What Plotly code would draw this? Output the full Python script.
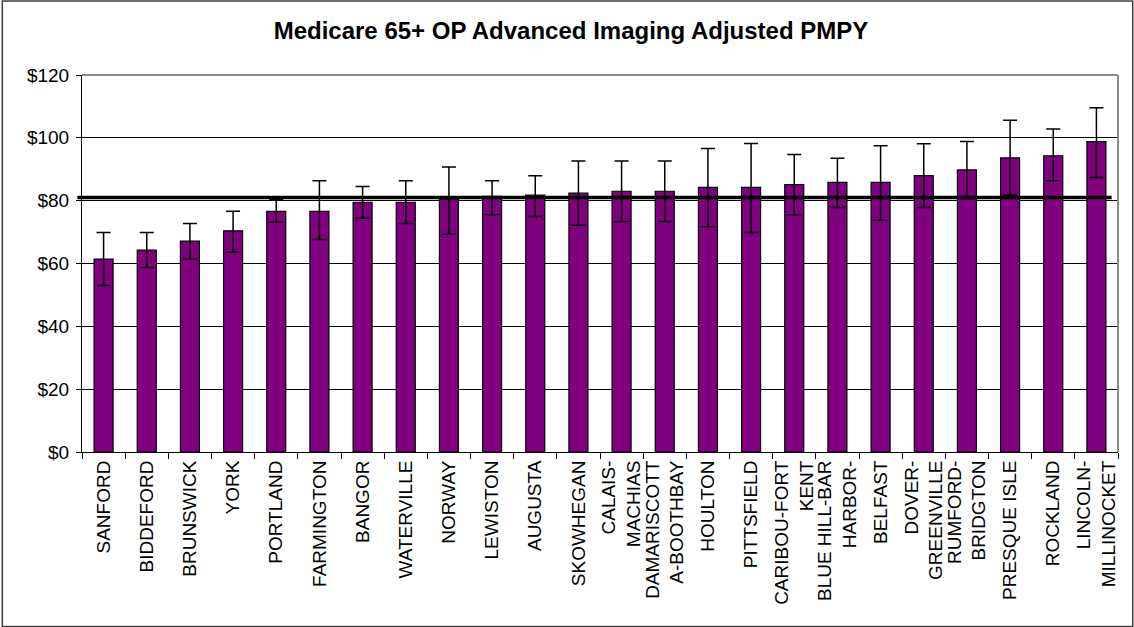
import plotly.graph_objects as go

# Hospital service areas, sorted by adjusted PMPY
areas = ["SANFORD", "BIDDEFORD", "BRUNSWICK", "YORK", "PORTLAND", "FARMINGTON",
         "BANGOR", "WATERVILLE", "NORWAY", "LEWISTON", "AUGUSTA", "SKOWHEGAN",
         "CALAIS-<br>MACHIAS", "DAMARISCOTT<br>A-BOOTHBAY", "HOULTON", "PITTSFIELD",
         "CARIBOU-FORT<br>KENT", "BLUE HILL-BAR<br>HARBOR-", "BELFAST",
         "DOVER-<br>GREENVILLE", "RUMFORD-<br>BRIDGTON", "PRESQUE ISLE", "ROCKLAND",
         "LINCOLN-<br>MILLINOCKET"]

pmpy = [61.4, 64.3, 67.1, 70.4, 76.6, 76.6, 79.5, 79.5, 80.5, 81.4, 81.8, 82.4,
        83.0, 83.0, 84.2, 84.2, 85.1, 85.8, 85.8, 88.0, 89.8, 93.6, 94.3, 98.8]

# confidence interval bounds
ci_upper = [69.9, 69.9, 72.7, 76.6, 80.3, 86.3, 84.5, 86.3, 90.7, 86.3, 87.9, 92.6,
            92.6, 92.6, 96.6, 98.2, 94.7, 93.5, 97.5, 98.1, 98.8, 105.6, 102.8, 109.6]
ci_lower = [53.0, 58.7, 61.4, 63.6, 73.2, 67.6, 74.4, 72.7, 69.3, 75.5, 75.0, 72.2,
            73.4, 73.4, 71.7, 69.9, 75.5, 77.8, 73.8, 77.8, 80.7, 81.8, 86.3, 87.4]

state_avg = 81.0

y_ticks = [0, 20, 40, 60, 80, 100, 120]
y_labels = ["$0", "$20", "$40", "$60", "$80", "$100", "$120"]

err_plus = [u - v for u, v in zip(ci_upper, pmpy)]
err_minus = [v - l for v, l in zip(pmpy, ci_lower)]

fig = go.Figure()
fig.add_trace(go.Bar(
    x=areas, y=pmpy,
    marker=dict(color="#800080", line=dict(color="black", width=1.2)),
    error_y=dict(type="data", symmetric=False, array=err_plus, arrayminus=err_minus,
                 color="black", thickness=1.5, width=7),
    showlegend=False,
))

font = "Liberation Sans, Arial, sans-serif"

fig.update_layout(
    width=1134, height=627,
    margin=dict(l=82, r=16, t=75, b=175),
    paper_bgcolor="white", plot_bgcolor="white",
    bargap=0.56,
    title=dict(text="<b>Medicare 65+ OP Advanced Imaging Adjusted PMPY</b>",
               x=0.5035, xanchor="center", y=0.951, yanchor="middle",
               font=dict(family=font, size=24, color="black")),
    font=dict(family=font, color="black"),
)

fig.update_xaxes(
    tickangle=-90, tickfont=dict(size=19), showline=True, linecolor="black",
    linewidth=1, ticks="outside", ticklen=6, tickcolor="black",
    tickson="boundaries", showgrid=False,
)
fig.update_yaxes(
    range=[0, 120], tickvals=y_ticks, ticktext=y_labels, tickfont=dict(size=19),
    showline=True, linecolor="black", linewidth=1, ticks="outside", ticklen=5,
    tickcolor="black", ticklabelstandoff=3, showgrid=True, gridcolor="black",
    gridwidth=1, zeroline=False,
)

# state average line
fig.add_shape(type="line", xref="paper", yref="y", x0=-0.0045, x1=0.9939,
              y0=state_avg, y1=state_avg, line=dict(color="black", width=3.5))

# grey plot-area border on top and right
fig.add_shape(type="line", xref="paper", yref="paper", x0=0, x1=1, y0=1, y1=1,
              line=dict(color="#8c8c8c", width=2))
fig.add_shape(type="line", xref="paper", yref="paper", x0=1, x1=1, y0=0, y1=1,
              line=dict(color="#8c8c8c", width=2))

# outer chart border
fig.add_shape(type="rect", xref="paper", yref="paper", x0=-0.0769, x1=1.0142,
              y0=-0.4627, y1=1.1965, line=dict(color="#404040", width=1.5))

fig.write_html("out.html", config={"displayModeBar": False},
               post_script="document.body.style.margin='0px';")
